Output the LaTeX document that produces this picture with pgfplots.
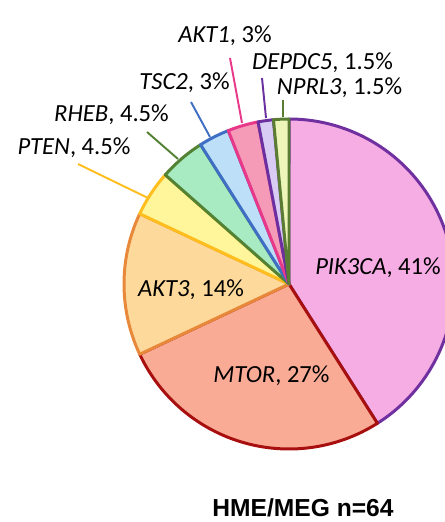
\documentclass[border=0pt]{standalone}
\usepackage{pgfplots}
\pgfplotsset{compat=1.18}
\usepackage{fontspec}
\setmainfont{Carlito}
\newfontfamily\titlefont{Liberation Sans}
\definecolor{pikF}{HTML}{F5ADE3}\definecolor{pikD}{HTML}{7030A0}
\definecolor{mtorF}{HTML}{F9AB96}\definecolor{mtorD}{HTML}{A81010}
\definecolor{akt3F}{HTML}{FDD99B}\definecolor{akt3D}{HTML}{E8883A}
\definecolor{ptenF}{HTML}{FFF59A}\definecolor{ptenD}{HTML}{FFBE1E}
\definecolor{rhebF}{HTML}{A8EBC2}\definecolor{rhebD}{HTML}{548235}
\definecolor{tscF}{HTML}{BDE0F8}\definecolor{tscD}{HTML}{3F6FC4}
\definecolor{akt1F}{HTML}{F59BB8}\definecolor{akt1D}{HTML}{E8388A}
\definecolor{depF}{HTML}{D8CCF5}\definecolor{depD}{HTML}{6B2FA0}
\definecolor{nprF}{HTML}{EEF5B9}\definecolor{nprD}{HTML}{5A7D33}
% pie centre and radius (in picture pixels)
\def\cx{289}\def\cy{238}\def\rr{165}
\tikzset{lab/.style={font=\fontsize{14}{16}\selectfont, anchor=base, inner sep=0pt}}
\begin{document}
\begin{tikzpicture}
\begin{axis}[
  at={(0,0)}, anchor=south west,
  scale only axis, width=8.9cm, height=10.44cm,
  xmin=0, xmax=445, ymin=0, ymax=522,
  hide axis, clip=true,
  every axis plot/.append style={line join=round, line width=1.7pt},
]
% shares (percent), clockwise from 12 o'clock: 41, 27, 14, 4.5, 4.5, 3, 3, 1.5, 1.5
\addplot[fill=pikF, draw=pikD, domain={90-3.6*41}:{90}, samples=120, variable=\t]
  ({\cx+\rr*cos(\t)},{\cy+\rr*sin(\t)}) -- (axis cs:\cx,\cy) -- cycle;
\addplot[fill=mtorF, draw=mtorD, domain={90-3.6*68}:{90-3.6*41}, samples=80, variable=\t]
  ({\cx+\rr*cos(\t)},{\cy+\rr*sin(\t)}) -- (axis cs:\cx,\cy) -- cycle;
\addplot[fill=akt3F, draw=akt3D, domain={90-3.6*82}:{90-3.6*68}, samples=40, variable=\t]
  ({\cx+\rr*cos(\t)},{\cy+\rr*sin(\t)}) -- (axis cs:\cx,\cy) -- cycle;
\addplot[fill=ptenF, draw=ptenD, domain={90-3.6*86.5}:{90-3.6*82}, samples=15, variable=\t]
  ({\cx+\rr*cos(\t)},{\cy+\rr*sin(\t)}) -- (axis cs:\cx,\cy) -- cycle;
\addplot[fill=rhebF, draw=rhebD, domain={90-3.6*91}:{90-3.6*86.5}, samples=15, variable=\t]
  ({\cx+\rr*cos(\t)},{\cy+\rr*sin(\t)}) -- (axis cs:\cx,\cy) -- cycle;
\addplot[fill=tscF, draw=tscD, domain={90-3.6*94}:{90-3.6*91}, samples=10, variable=\t]
  ({\cx+\rr*cos(\t)},{\cy+\rr*sin(\t)}) -- (axis cs:\cx,\cy) -- cycle;
\addplot[fill=akt1F, draw=akt1D, domain={90-3.6*97}:{90-3.6*94}, samples=10, variable=\t]
  ({\cx+\rr*cos(\t)},{\cy+\rr*sin(\t)}) -- (axis cs:\cx,\cy) -- cycle;
\addplot[fill=depF, draw=depD, domain={90-3.6*98.5}:{90-3.6*97}, samples=6, variable=\t]
  ({\cx+\rr*cos(\t)},{\cy+\rr*sin(\t)}) -- (axis cs:\cx,\cy) -- cycle;
\addplot[fill=nprF, draw=nprD, domain={90-3.6*100}:{90-3.6*98.5}, samples=6, variable=\t]
  ({\cx+\rr*cos(\t)},{\cy+\rr*sin(\t)}) -- (axis cs:\cx,\cy) -- cycle;
% leader lines
\addplot[akt1D, line width=1.1pt] coordinates {(230,464) (242,399)};
\addplot[depD, line width=1.1pt] coordinates {(262,444) (266,404)};
\addplot[nprD, line width=1.1pt] coordinates {(283,422) (283,405)};
\addplot[tscD, line width=1.1pt] coordinates {(191,420) (210,385)};
\addplot[rhebD, line width=1.1pt] coordinates {(147,390) (178,363)};
\addplot[ptenD, line width=1.1pt] coordinates {(78,358) (148,324)};
% labels
\node[lab] at (axis cs:225,479) {\textit{AKT1}, 3\%};
\node[lab] at (axis cs:322.5,452) {\textit{DEPDC5}, 1.5\%};
\node[lab] at (axis cs:339.5,427) {\textit{NPRL3}, 1.5\%};
\node[lab] at (axis cs:184.5,432) {\textit{TSC2}, 3\%};
\node[lab] at (axis cs:111.5,400) {\textit{RHEB}, 4.5\%};
\node[lab] at (axis cs:74,367) {\textit{PTEN}, 4.5\%};
\node[lab] at (axis cs:378,247) {\textit{PIK3CA}, 41\%};
\node[lab] at (axis cs:191,225) {\textit{AKT3}, 14\%};
\node[lab] at (axis cs:271.5,139) {\textit{MTOR}, 27\%};
\node[anchor=base, inner sep=0pt, font=\titlefont\bfseries\fontsize{14}{16}\selectfont] at (axis cs:303,5) {HME/MEG n=64};
\end{axis}
\pgfresetboundingbox
\path[use as bounding box] (0,0) rectangle (8.9cm,10.44cm);
\end{tikzpicture}
\end{document}
